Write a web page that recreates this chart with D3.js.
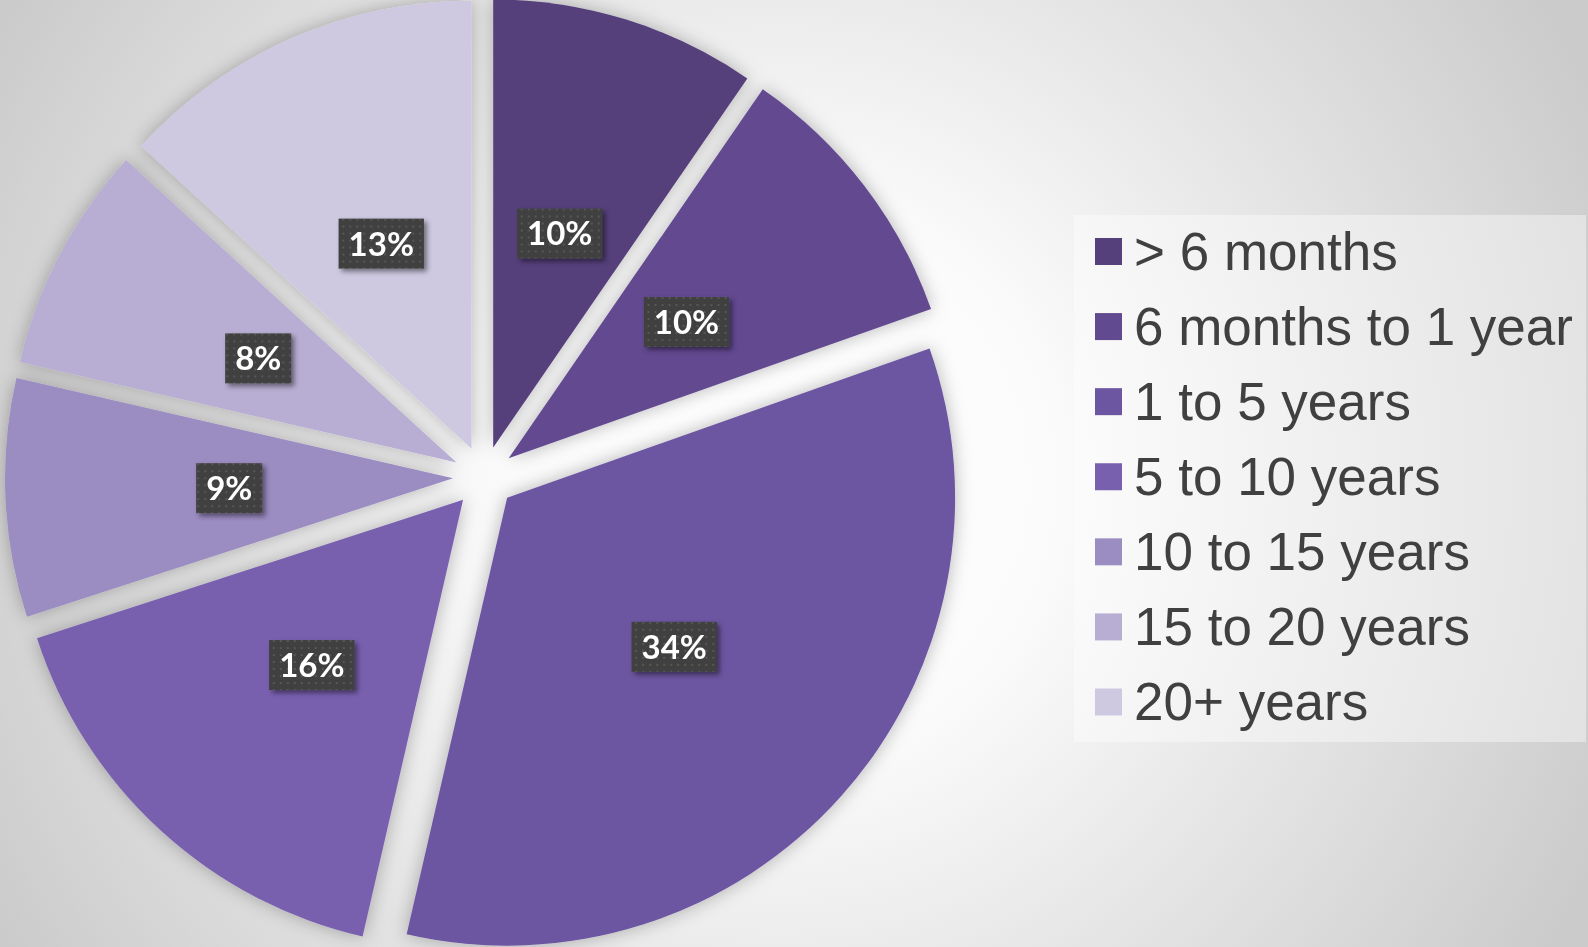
<!DOCTYPE html>
<html>
<head>
<meta charset="utf-8">
<script src="https://cdn.jsdelivr.net/npm/d3@7"></script>
<style>
  body { margin: 0; overflow: hidden; }
  svg { display: block; }
</style>
</head>
<body>
<div class="chart"></div>
<script>
// chart data (shares, labels are the rounded values)
const categories = ["> 6 months", "6 months to 1 year", "1 to 5 years", "5 to 10 years",
                    "10 to 15 years", "15 to 20 years", "20+ years"];
const values = [9.6, 10.0, 34.0, 16.4, 8.6, 8.2, 13.2];
const colors = ["#56407b", "#624a90", "#6d56a1", "#7960af", "#9b8cc2", "#b8aed3", "#cec9e1"];

const width = 1588, height = 947;
const cx = 484, cy = 477, radius = 448, explode = 31;

const svg = d3.select('.chart')
  .append('svg')
  .attr('width', width)
  .attr('height', height);

const defs = svg.append('defs');

// background radial gradient
const bg = defs.append('radialGradient')
  .attr('id', 'bg')
  .attr('gradientUnits', 'userSpaceOnUse')
  .attr('cx', 780).attr('cy', 480).attr('r', 900);
bg.append('stop').attr('offset', 0).attr('stop-color', '#ffffff');
bg.append('stop').attr('offset', 0.3).attr('stop-color', '#fbfbfb');
bg.append('stop').attr('offset', 1).attr('stop-color', '#cbcbcb');

// pie shadow
const sh = defs.append('filter').attr('id', 'pieShadow')
  .attr('x', '-20%').attr('y', '-20%').attr('width', '140%').attr('height', '140%');
sh.append('feDropShadow')
  .attr('dx', 0).attr('dy', 0).attr('stdDeviation', 9)
  .attr('flood-color', '#000').attr('flood-opacity', 0.28);

// label box shadow
const lsh = defs.append('filter').attr('id', 'lblShadow')
  .attr('x', '-30%').attr('y', '-30%').attr('width', '160%').attr('height', '160%');
lsh.append('feDropShadow')
  .attr('dx', 3).attr('dy', 3).attr('stdDeviation', 2.5)
  .attr('flood-color', '#000').attr('flood-opacity', 0.45);

// dotted label pattern
const pat = defs.append('pattern')
  .attr('id', 'dots')
  .attr('patternUnits', 'userSpaceOnUse')
  .attr('width', 7).attr('height', 7);
pat.append('rect').attr('width', 7).attr('height', 7).attr('fill', '#404040');
pat.append('rect').attr('x', 3).attr('y', 3).attr('width', 2).attr('height', 2).attr('fill', '#575757');

svg.append('rect')
  .attr('width', width).attr('height', height)
  .attr('fill', 'url(#bg)');

//Create pie
const pie = d3.pie().sort(null).value(d => d);
const arc = d3.arc().innerRadius(0).outerRadius(radius);
const arcs = pie(values);

function shift(d) {
  const a = (d.startAngle + d.endAngle) / 2;
  return [Math.sin(a) * explode, -Math.cos(a) * explode];
}

const pieG = svg.append('g')
  .attr('transform', `translate(${cx},${cy})`);

pieG.append('g')
  .attr('filter', 'url(#pieShadow)')
  .selectAll('path')
  .data(arcs)
  .enter()
  .append('path')
  .attr('transform', d => `translate(${shift(d)[0]},${shift(d)[1]})`)
  .attr('d', arc)
  .attr('fill', (d, i) => colors[i]);

//Labels
const lbl = pieG.selectAll('.lbl')
  .data(arcs)
  .enter()
  .append('g')
  .attr('class', 'lbl')
  .attr('transform', d => {
    const c = arc.centroid(d), s = shift(d);
    return `translate(${c[0] + s[0]},${c[1] + s[1]})`;
  });

lbl.append('text')
  .attr('text-anchor', 'middle')
  .attr('dy', '0.36em')
  .attr('fill', '#ffffff')
  .style('font-family', 'Lato, sans-serif')
  .style('font-weight', 700)
  .style('font-size', '33px')
  .text(d => Math.round(d.data) + '%');

lbl.each(function() {
  const g = d3.select(this);
  const w = g.select('text').node().getComputedTextLength() + 20;
  g.insert('rect', 'text')
    .attr('x', -w / 2).attr('y', -25)
    .attr('width', w).attr('height', 50)
    .attr('fill', 'url(#dots)')
    .attr('filter', 'url(#lblShadow)');
});

//Legend
const legX = 1074, legY = 215, legW = 512, legH = 527;
const legend = svg.append('g');
legend.append('rect')
  .attr('x', legX).attr('y', legY)
  .attr('width', legW).attr('height', legH)
  .attr('fill', '#ffffff').attr('fill-opacity', 0.4);

const rowScale = d3.scalePoint()
  .domain(categories)
  .range([251.5, 702])
  .padding(0);

const rows = legend.selectAll('.row')
  .data(categories)
  .enter()
  .append('g')
  .attr('class', 'row')
  .attr('transform', d => `translate(0,${rowScale(d)})`);

rows.append('rect')
  .attr('x', 1095).attr('y', -13.5)
  .attr('width', 27).attr('height', 27)
  .attr('fill', (d, i) => colors[i]);

rows.append('text')
  .attr('x', 1134).attr('y', 18)
  .attr('fill', '#404040')
  .style('font-family', '"Liberation Sans", Arial, sans-serif')
  .style('font-size', '53px')
  .text(d => d);
</script>
</body>
</html>
